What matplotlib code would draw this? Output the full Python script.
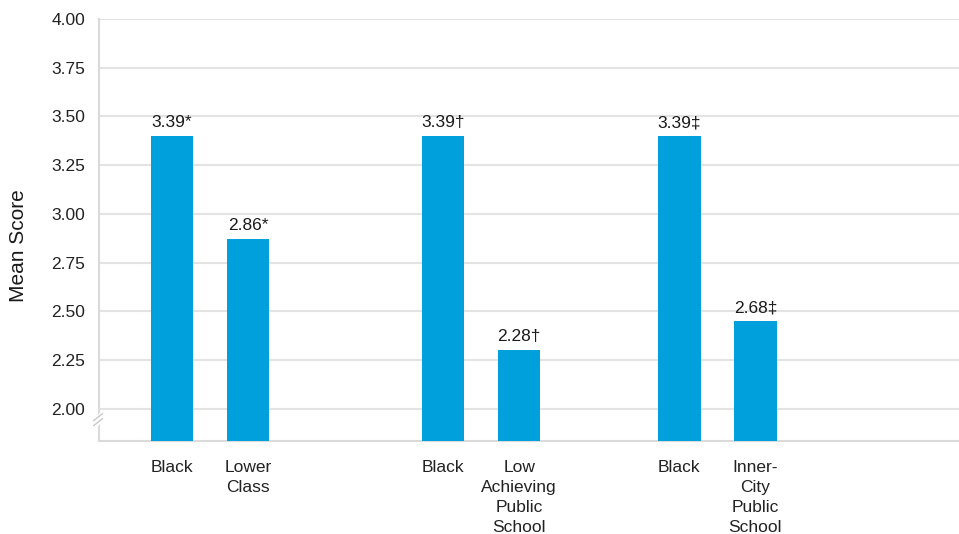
import matplotlib
matplotlib.use("Agg")
import matplotlib.pyplot as plt

plt.rcParams['font.family'] = ['Liberation Sans', 'DejaVu Sans']

# data
categories = ["Black", "Lower\nClass",
              "Black", "Low\nAchieving\nPublic\nSchool",
              "Black", "Inner-\nCity\nPublic\nSchool"]
bar_heights = [3.40, 2.87, 3.40, 2.30, 3.40, 2.45]
value_labels = ["3.39*", "2.86*", "3.39\u2020", "2.28\u2020", "3.39\u2021", "2.68\u2021"]
yticks = [2.00, 2.25, 2.50, 2.75, 3.00, 3.25, 3.50, 3.75, 4.00]

# layout: bar centres (pair spacing 1, uneven group gaps as in the original)
positions = [0, 1, 3.57, 4.57, 6.68, 7.68]
bar_color = "#00A0DC"
grid_color = "#E3E3E3"

fig = plt.figure(figsize=(9.59, 5.34), dpi=100)
ax = fig.add_axes([0.1032, 0.1747, 0.8968, 0.7897])

ax.bar(positions, bar_heights, width=0.56, color=bar_color, zorder=3)
for x, h, lab in zip(positions, bar_heights, value_labels):
    ax.text(x, h + 0.03, lab, ha="center", va="bottom", fontsize=12.5, color="#1a1a1a", zorder=4)

ax.set_ylim(1.836, 4.0)
ax.set_xlim(-0.96, 10.36)
ax.set_yticks(yticks)
ax.set_yticklabels([f"{t:.2f}" for t in yticks], fontsize=12.5, color="#222222")
ax.set_xticks(positions)
ax.set_xticklabels(categories, fontsize=12.5, color="#222222", linespacing=1.4, va="top")
ax.tick_params(axis="both", length=0)
ax.tick_params(axis="y", pad=10)
ax.tick_params(axis="x", pad=14)

ax.yaxis.grid(True, color=grid_color, linewidth=1.5, zorder=0)
ax.set_axisbelow(True)
for side in ["top", "right"]:
    ax.spines[side].set_visible(False)
for side in ["left", "bottom"]:
    ax.spines[side].set_color("#DADADA")
    ax.spines[side].set_linewidth(1.5)

ax.set_ylabel("Mean Score", fontsize=15, color="#1a1a1a", va="center")
ax.yaxis.set_label_coords(-0.094, 0.462)

# axis break mark on the left spine
tr = ax.transAxes
ax.plot([-0.002, 0.002], [0.045, 0.055], transform=tr, color="white", linewidth=5, clip_on=False, zorder=5)
for dy in (0.0, 0.012):
    ax.plot([-0.006, 0.004], [0.036 + dy, 0.052 + dy], transform=tr,
            color="#C8C8C8", linewidth=1.0, clip_on=False, zorder=6)

fig.savefig("out.png", dpi=100)
